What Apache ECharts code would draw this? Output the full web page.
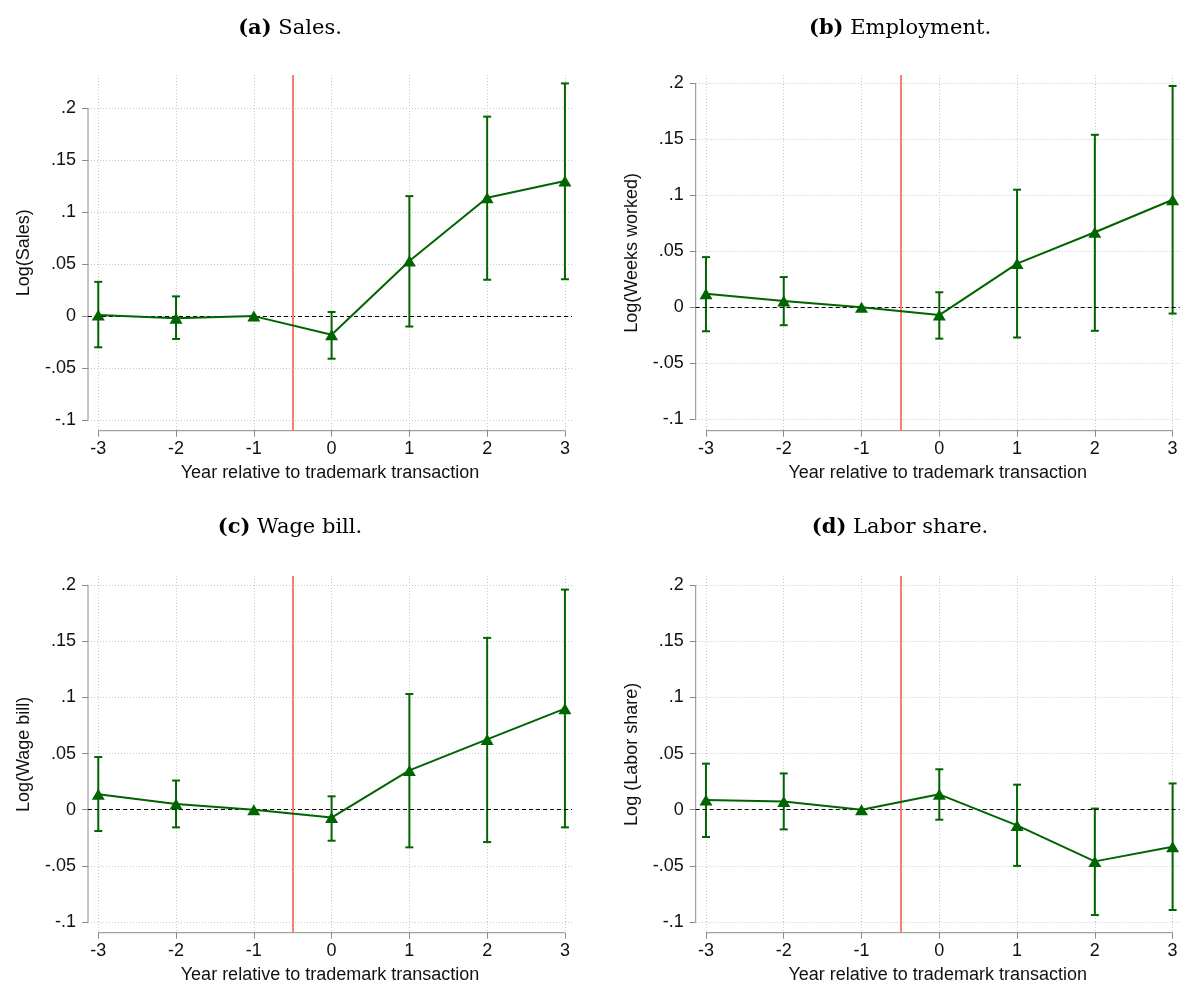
<!DOCTYPE html>
<html><head><meta charset="utf-8">
<script src="https://cdn.jsdelivr.net/npm/echarts@6/dist/echarts.min.js"></script>
<style>html,body{margin:0;padding:0;background:#fff}#c{width:1185px;height:987px}</style>
</head><body><div id="c"></div>
<script>
// ---- data ----
const years = [-3, -2, -1, 0, 1, 2, 3];
const xTickLabels = ['-3', '-2', '-1', '0', '1', '2', '3'];
const yTickValues = [-0.1, -0.05, 0, 0.05, 0.1, 0.15, 0.2];
const yTickLabels = ['-.1', '-.05', '0', '.05', '.1', '.15', '.2'];
const eventLine = -0.5;
const xTitle = 'Year relative to trademark transaction';

const panelTags = ['(a)', '(b)', '(c)', '(d)'];
const panelNames = ['Sales.', 'Employment.', 'Wage bill.', 'Labor share.'];
const yTitles = ['Log(Sales)', 'Log(Weeks worked)', 'Log(Wage bill)', 'Log (Labor share)'];

const salesCoef = [0.001, -0.002, 0, -0.018, 0.053, 0.114, 0.130];
const salesLo   = [-0.030, -0.022, null, -0.041, -0.010, 0.035, 0.0355];
const salesHi   = [0.033, 0.019, null, 0.004, 0.1155, 0.192, 0.224];

const empCoef = [0.012, 0.0056, 0, -0.007, 0.039, 0.067, 0.096];
const empLo   = [-0.0214, -0.016, null, -0.028, -0.027, -0.021, -0.0056];
const empHi   = [0.0448, 0.027, null, 0.0134, 0.105, 0.154, 0.1976];

const wageCoef = [0.0137, 0.005, 0, -0.007, 0.035, 0.0626, 0.090];
const wageLo   = [-0.019, -0.0157, null, -0.0276, -0.0335, -0.0288, -0.0157];
const wageHi   = [0.0469, 0.026, null, 0.0119, 0.103, 0.153, 0.196];

const laborCoef = [0.0086, 0.0074, 0, 0.0137, -0.014, -0.046, -0.033];
const laborLo   = [-0.0243, -0.0175, null, -0.0089, -0.050, -0.0938, -0.0893];
const laborHi   = [0.041, 0.0323, null, 0.036, 0.0223, 0.001, 0.0234];

const coefs = [salesCoef, empCoef, wageCoef, laborCoef];
const los = [salesLo, empLo, wageLo, laborLo];
const his = [salesHi, empHi, wageHi, laborHi];

// ---- layout / style ----
const GREEN = '#006400';
const RED = '#f47f72';
const AXIS = '#8a8a8a';
const GRIDC = '#c8c8c8';
const SANS = 'Liberation Sans, Arial, sans-serif';
const SERIF = 'DejaVu Serif, serif';

const layouts = [
  {left: 88, top: 75, width: 484, height: 355.7, xMin: -3.132, xMax: 3.091, yMin: -0.1103, yMax: 0.2321, tx: 290, ty: 29},
  {left: 695.7, top: 75, width: 484, height: 355.7, xMin: -3.132, xMax: 3.091, yMin: -0.1102, yMax: 0.2074, tx: 900, ty: 29},
  {left: 88, top: 576, width: 484, height: 356.7, xMin: -3.132, xMax: 3.091, yMin: -0.1095, yMax: 0.2081, tx: 290, ty: 528},
  {left: 695.7, top: 576, width: 484, height: 356.7, xMin: -3.132, xMax: 3.091, yMin: -0.1095, yMax: 0.2081, tx: 900, ty: 528}
];

function yFmt(v) {
  for (let i = 0; i < yTickValues.length; i++) if (Math.abs(yTickValues[i] - v) < 1e-9) return yTickLabels[i];
  return '';
}
function xFmt(v) {
  for (let i = 0; i < years.length; i++) if (Math.abs(years[i] - v) < 1e-9) return xTickLabels[i];
  return '';
}

const grids = [], xAxes = [], yAxes = [], series = [], graphics = [];

layouts.forEach((L, k) => {
  grids.push({left: L.left, top: L.top, width: L.width, height: L.height, containLabel: false, outerBoundsMode: 'none'});
  xAxes.push({
    type: 'value', gridIndex: k, min: L.xMin, max: L.xMax, position: 'bottom',
    name: xTitle, nameLocation: 'middle', nameGap: 33,
    nameTextStyle: {fontFamily: SANS, fontSize: 18, color: '#111'},
    axisLine: {show: false, onZero: false},
    axisTick: {show: true, customValues: years, length: 6, lineStyle: {color: AXIS, width: 1}},
    axisLabel: {customValues: years, formatter: xFmt, fontFamily: SANS, fontSize: 18, color: '#111', margin: 9},
    splitLine: {show: true, lineStyle: {color: GRIDC, width: 1, type: [1, 2]}}
  });
  yAxes.push({
    type: 'value', gridIndex: k, min: L.yMin, max: L.yMax, position: 'left',
    name: yTitles[k], nameLocation: 'middle', nameGap: 55,
    nameTextStyle: {fontFamily: SANS, fontSize: 18, color: '#111'},
    axisLine: {show: false, onZero: false},
    axisTick: {show: true, customValues: yTickValues, length: 6, lineStyle: {color: AXIS, width: 1}},
    axisLabel: {customValues: yTickValues, formatter: yFmt, fontFamily: SANS, fontSize: 18, color: '#111', margin: 12},
    splitLine: {show: true, lineStyle: {color: GRIDC, width: 1, type: [1, 2]}}
  });

  // axis lines spanning only the tick range
  series.push({
    type: 'line', xAxisIndex: k, yAxisIndex: k, silent: true, clip: false, symbol: 'none',
    data: [[L.xMin, yTickValues[0]], [L.xMin, yTickValues[yTickValues.length - 1]]],
    lineStyle: {color: AXIS, width: 1}, z: 3, animation: false
  });
  series.push({
    type: 'line', xAxisIndex: k, yAxisIndex: k, silent: true, clip: false, symbol: 'none',
    data: [[years[0], L.yMin], [years[years.length - 1], L.yMin]],
    lineStyle: {color: AXIS, width: 1}, z: 3, animation: false
  });

  // error bars
  const ebData = years.map((yr, i) => [yr, los[k][i], his[k][i]]).filter(d => d[1] != null);
  series.push({
    type: 'custom', xAxisIndex: k, yAxisIndex: k, silent: true, animation: false, z: 4,
    data: ebData, encode: {x: 0, y: [1, 2]},
    renderItem: function (params, api) {
      const x = api.value(0);
      const pLo = api.coord([x, api.value(1)]);
      const pHi = api.coord([x, api.value(2)]);
      const hw = 4;
      const st = {stroke: GREEN, lineWidth: 2, fill: null};
      return {type: 'group', children: [
        {type: 'line', shape: {x1: pLo[0], y1: pLo[1], x2: pHi[0], y2: pHi[1]}, style: st},
        {type: 'line', shape: {x1: pLo[0] - hw, y1: pLo[1], x2: pLo[0] + hw, y2: pLo[1]}, style: st},
        {type: 'line', shape: {x1: pHi[0] - hw, y1: pHi[1], x2: pHi[0] + hw, y2: pHi[1]}, style: st}
      ]};
    }
  });

  // point estimates
  series.push({
    type: 'line', xAxisIndex: k, yAxisIndex: k, silent: true, animation: false, z: 5,
    data: years.map((yr, i) => [yr, coefs[k][i]]),
    symbol: 'triangle', symbolSize: [13, 11], showSymbol: true,
    itemStyle: {color: GREEN},
    lineStyle: {color: GREEN, width: 2},
    markLine: {
      silent: true, symbol: 'none', animation: false,
      label: {show: false},
      data: [
        {yAxis: 0, lineStyle: {color: '#000', width: 1, type: [4, 3]}},
        {xAxis: eventLine, lineStyle: {color: RED, width: 2, type: 'solid'}}
      ]
    }
  });

  graphics.push({
    type: 'text', x: L.tx, y: L.ty,
    style: {
      text: '{b|' + panelTags[k] + '} ' + panelNames[k],
      font: '21px ' + SERIF, fill: '#000',
      textAlign: 'center', textVerticalAlign: 'middle',
      rich: {b: {fontWeight: 'bold', fontFamily: SERIF, fontSize: 21, fill: '#000', color: '#000'}}
    }
  });
});

const chart = echarts.init(document.getElementById('c'), null, {renderer: 'canvas'});
chart.setOption({
  animation: false,
  backgroundColor: '#fff',
  grid: grids, xAxis: xAxes, yAxis: yAxes, series: series,
  graphic: graphics
});
</script>
</body></html>
